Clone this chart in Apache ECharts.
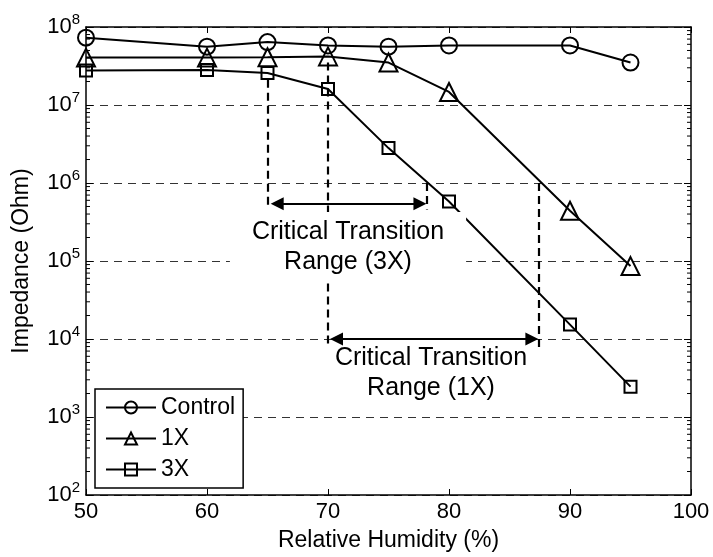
<!DOCTYPE html>
<html>
<head>
<meta charset="utf-8">
<script src="https://cdn.jsdelivr.net/npm/echarts@6/dist/echarts.min.js"></script>
<style>html,body{margin:0;padding:0;background:#fff;}#c{width:713px;height:557px;}</style>
</head>
<body>
<div id="c"></div>
<script>
const humidity = [50, 60, 65, 70, 75, 80, 90, 95];
const controlValues = [7.3e7, 5.6e7, 6.4e7, 5.8e7, 5.6e7, 5.8e7, 5.8e7, 3.5e7];
const x1Values = [4.05e7, 4.05e7, 4.1e7, 4.2e7, 3.5e7, 1.47e7, 4.4e5, 8.6e4];
const x3Values = [2.77e7, 2.8e7, 2.57e7, 1.6e7, 2.8e6, 5.8e5, 1.53e4, 2.45e3];
const seriesNames = ['Control', '1X', '3X'];
const xTicks = [50, 60, 70, 80, 90, 100];
const yExponents = [2, 3, 4, 5, 6, 7, 8];
const minorTickValues = [];
for (let e = 2; e < 8; e++) { for (let m = 2; m <= 9; m++) minorTickValues.push(m * Math.pow(10, e)); }
// annotation guide lines (x, y values)
const guide3X = { left: 65, right: 78.16, top: 2.1e7, bottom: 4.56e5, arrowY: 5.4e5, rightTop: 1e6, arrowL: 65.8, arrowR: 77.6 };
const guide1X = { left: 70, right: 87.44, top: 3.5e7, bottom: 7.66e3, arrowY: 1e4, rightTop: 1e6, arrowL: 70.7, arrowR: 86.85 };
const label3X = 'Critical Transition\nRange (3X)';
const label1X = 'Critical Transition\nRange (1X)';

const FONT = '"Liberation Sans", Arial, Helvetica, sans-serif';
const chart = echarts.init(document.getElementById('c'));

function pairs(vals) { return humidity.map((h, i) => [h, vals[i]]); }

const baseLine = (name, vals, symbol, size) => ({
  name, type: 'line', data: pairs(vals), symbol, symbolSize: size,
  lineStyle: { color: '#000', width: 2 },
  itemStyle: { color: 'rgba(0,0,0,0)', borderColor: '#000', borderWidth: 2 },
  emphasis: { disabled: true }, z: 5
});

const dashStyle = { color: '#000', width: 2.2, type: [8, 5] };

chart.setOption({
  animation: false,
  backgroundColor: '#fff',
  textStyle: { fontFamily: FONT },
  grid: { left: 86, right: 22, top: 27, bottom: 60 },
  xAxis: [{
    type: 'value', min: 50, max: 100, interval: 10,
    name: 'Relative Humidity (%)', nameLocation: 'middle', nameGap: 34,
    nameTextStyle: { fontSize: 23, color: '#000', fontFamily: FONT },
    axisLine: { show: true, lineStyle: { color: '#000', width: 1.5 } },
    axisTick: { inside: true, length: 6, lineStyle: { color: '#000' } },
    axisLabel: { fontSize: 22, color: '#000', margin: 6, fontFamily: FONT,
      formatter: v => xTicks.includes(v) ? String(v) : '' },
    splitLine: { show: false }
  }, {
    type: 'value', min: 50, max: 100, interval: 10, position: 'top',
    axisLine: { show: true, lineStyle: { color: '#000', width: 1.5 } },
    axisTick: { inside: true, length: 6, lineStyle: { color: '#000' } },
    axisLabel: { show: false }, splitLine: { show: false }
  }],
  yAxis: [{
    type: 'log', logBase: 10, min: 1e2, max: 1e8,
    name: 'Impedance (Ohm)', nameLocation: 'middle', nameGap: 53, nameRotate: 90,
    nameTextStyle: { fontSize: 23, color: '#000', fontFamily: FONT },
    axisLine: { show: true, lineStyle: { color: '#000', width: 1.5 } },
    axisTick: { inside: true, length: 7, lineStyle: { color: '#000' } },
    axisLabel: {
      margin: 6, color: '#000',
      formatter: v => { const e = Math.round(Math.log10(v)); return yExponents.includes(e) ? '{b|10}{s|' + e + '}' : ''; },
      rich: {
        b: { fontSize: 22, color: '#000', fontFamily: FONT, lineHeight: 30 },
        s: { fontSize: 15, color: '#000', fontFamily: FONT, verticalAlign: 'top', lineHeight: 15 }
      }
    },
    splitLine: { show: true, lineStyle: { color: '#333', width: 1, type: [8, 6] } }
  }, {
    type: 'log', logBase: 10, min: 1e2, max: 1e8, position: 'right',
    axisLine: { show: true, lineStyle: { color: '#000', width: 1.5 } },
    axisTick: { inside: true, length: 7, lineStyle: { color: '#000' } },
    axisLabel: { show: false }, splitLine: { show: false }
  }],
  legend: {
    data: seriesNames, orient: 'vertical', left: 95, top: 389,
    backgroundColor: '#fff', borderColor: '#000', borderWidth: 1.5,
    padding: [7, 8, 7, 10], itemWidth: 50, itemHeight: 15, itemGap: 8,
    textStyle: { fontSize: 23, color: '#000', fontFamily: FONT },
    z: 20
  },
  graphic: [{
    type: 'text', x: 348, y: 247, z: 50,
    style: { text: label3X, font: '25px ' + FONT, fill: '#000', align: 'center', verticalAlign: 'middle',
      lineHeight: 30, backgroundColor: '#fff', padding: [5, 22] }
  }, {
    type: 'text', x: 431, y: 373, z: 50,
    style: { text: label1X, font: '25px ' + FONT, fill: '#000', align: 'center', verticalAlign: 'middle',
      lineHeight: 30 }
  }],
  series: [
    baseLine('Control', controlValues, 'circle', 16),
    baseLine('1X', x1Values, 'triangle', 18),
    baseLine('3X', x3Values, 'rect', 12),
    {
      name: 'guides', type: 'line', data: [], silent: true, z: 3,
      markLine: {
        silent: true, symbol: 'none', label: { show: false }, lineStyle: dashStyle,
        emphasis: { disabled: true },
        data: [
          [{ coord: [guide3X.left, guide3X.top] }, { coord: [guide3X.left, guide3X.bottom] }],
          [{ coord: [guide3X.right, guide3X.rightTop] }, { coord: [guide3X.right, guide3X.bottom] }],
          [{ coord: [guide1X.left, guide1X.top] }, { coord: [guide1X.left, guide1X.bottom] }],
          [{ coord: [guide1X.right, guide1X.rightTop] }, { coord: [guide1X.right, guide1X.bottom] }]
        ]
      }
    },
    {
      name: 'arrows', type: 'line', data: [], silent: true, z: 4,
      markLine: {
        silent: true, symbol: ['triangle', 'triangle'], symbolSize: [13, 13], label: { show: false },
        lineStyle: { color: '#000', width: 2, type: 'solid' },
        itemStyle: { color: '#000' },
        emphasis: { disabled: true },
        data: [
          [{ coord: [guide3X.arrowL, guide3X.arrowY] }, { coord: [guide3X.arrowR, guide3X.arrowY] }],
          [{ coord: [guide1X.arrowL, guide1X.arrowY] }, { coord: [guide1X.arrowR, guide1X.arrowY] }]
        ]
      }
    },
    {
      name: 'minor', type: 'custom', silent: true, z: 6,
      data: minorTickValues.map(v => [50, v]),
      encode: { x: 0, y: 1 },
      clip: false,
      renderItem: (params, api) => {
        const v = api.value(1);
        const l = api.coord([50, v]);
        const r = api.coord([100, v]);
        return { type: 'group', children: [
          { type: 'line', shape: { x1: l[0], y1: l[1], x2: l[0] + 4, y2: l[1] }, style: { stroke: '#000', lineWidth: 1 } },
          { type: 'line', shape: { x1: r[0] - 4, y1: r[1], x2: r[0], y2: r[1] }, style: { stroke: '#000', lineWidth: 1 } }
        ] };
      }
    }
  ]
});
</script>
</body>
</html>
